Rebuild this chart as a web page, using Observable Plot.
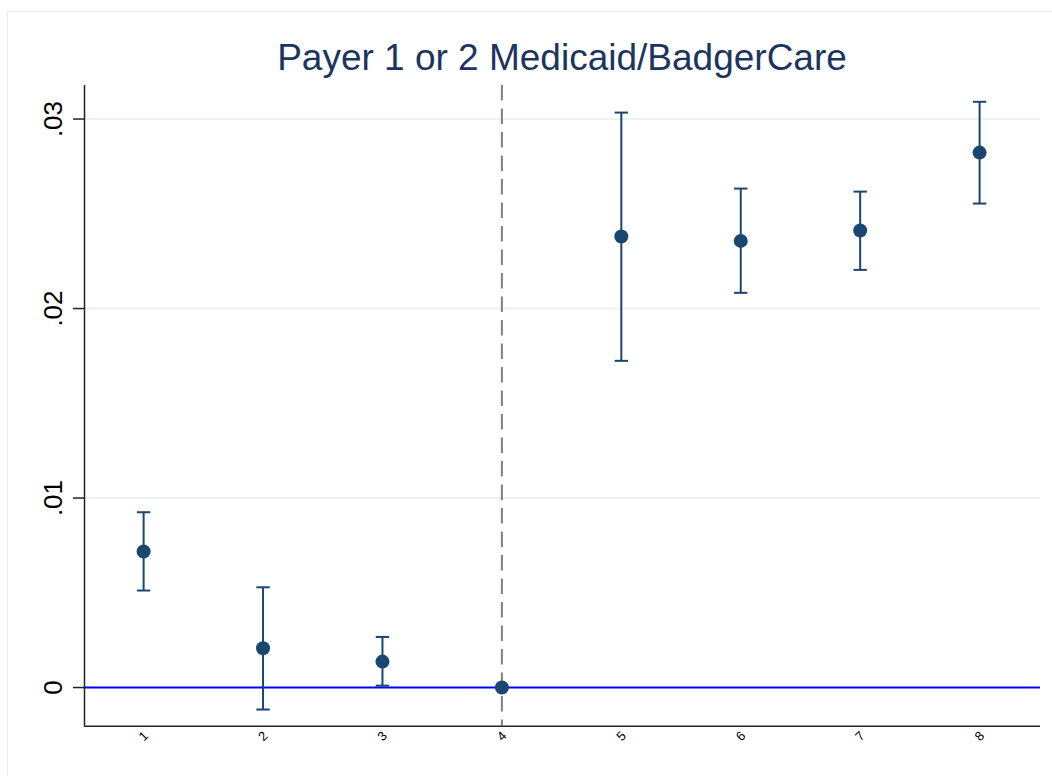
<!DOCTYPE html>
<html>
<head>
<meta charset="utf-8">
<script src="https://cdn.jsdelivr.net/npm/d3@7"></script>
<script src="https://cdn.jsdelivr.net/npm/@observablehq/plot@0.6"></script>
<style>
  html, body { margin: 0; padding: 0; background: #fff; overflow: hidden; }
  #wrap { position: relative; width: 1052px; height: 776px; overflow: hidden;
          font-family: "Liberation Sans", Arial, Helvetica, sans-serif; }
  #border { position: absolute; left: 7px; top: 11px; width: 1100px; height: 900px;
            border: 1.5px solid #e6eef1; box-sizing: border-box; pointer-events: none; }
  #title { position: relative; height: 80px; box-sizing: border-box;
           padding: 39px 12px 0 84px; font-size: 37px; line-height: 37px;
           text-align: center; color: #1c355e; white-space: nowrap; }
  #chart svg { display: block; }
</style>
</head>
<body>
<div id="wrap">
  <div id="border"></div>
  <div id="title">Payer 1 or 2 Medicaid/BadgerCare</div>
  <div id="chart"></div>
</div>
<script>
// Event-study coefficients with 95% confidence intervals (period 4 is the reference)
const periods   = [1, 2, 3, 4, 5, 6, 7, 8];
const estimates = [0.00718, 0.00207, 0.00137, 0, 0.0238, 0.02357, 0.02412, 0.02823];
const ciLow     = [0.00512, -0.00116, 0.0001, null, 0.01724, 0.02083, 0.02204, 0.02554];
const ciHigh    = [0.00925, 0.00529, 0.00267, null, 0.03034, 0.02633, 0.02617, 0.03091];

const yTicks      = [0, 0.01, 0.02, 0.03];
const yTickLabels = ["0", ".01", ".02", ".03"];
const xTickLabels = ["1", "2", "3", "4", "5", "6", "7", "8"];
const eventPeriod = 4;

const xDomain = [0.505, 8.51];
const yDomain = [-0.00204, 0.03177];

const rows = periods.map((p, i) => ({period: p, est: estimates[i], lo: ciLow[i], hi: ciHigh[i]}));
const ciRows = rows.filter(d => d.lo != null);

const navy = "#1a476f";
// horizontal cap drawn at the ends of each confidence interval
const capSymbol = {draw(ctx) { ctx.moveTo(-6.7, 0); ctx.lineTo(6.7, 0); }};

const chart = Plot.plot({
  width: 1052,
  height: 696,
  marginLeft: 84,
  marginRight: 12,
  marginTop: 5,
  marginBottom: 50.3,
  style: {background: "transparent", fontFamily: "'Liberation Sans', Arial, sans-serif"},
  x: {domain: xDomain, axis: null},
  y: {domain: yDomain, axis: null},
  marks: [
    Plot.ruleY(yTicks.filter(t => t !== 0), {stroke: "#eaf2f3", strokeWidth: 2}),
    Plot.ruleX([eventPeriod], {stroke: "#808080", strokeWidth: 2, strokeDasharray: "15.5,8"}),
    Plot.ruleY([0], {stroke: "#0000ff", strokeWidth: 2}),
    // axis lines
    Plot.ruleX([xDomain[0]], {stroke: "#222", strokeWidth: 1.5}),
    Plot.ruleY([yDomain[0]], {stroke: "#222", strokeWidth: 1.5}),
    Plot.axisY({ticks: yTicks, tickSize: 11, tickFormat: () => "", label: null, stroke: "#222", strokeWidth: 1.5}),
    Plot.text(yTicks, {
      y: d => d, text: (d, i) => yTickLabels[i], frameAnchor: "left", dx: -22.3,
      rotate: -90, textAnchor: "middle", lineAnchor: "bottom", fontSize: 26, fill: "#000"
    }),
    Plot.text(periods, {
      x: d => d, text: (d, i) => xTickLabels[i], frameAnchor: "bottom", dy: 10,
      rotate: -45, textAnchor: "middle", lineAnchor: "middle", fontSize: 13, fill: "#000"
    }),
    // confidence intervals
    Plot.ruleX(ciRows, {x: "period", y1: "lo", y2: "hi", stroke: navy, strokeWidth: 2}),
    Plot.dot(ciRows, {x: "period", y: "lo", symbol: capSymbol, fill: "none", stroke: navy, strokeWidth: 2}),
    Plot.dot(ciRows, {x: "period", y: "hi", symbol: capSymbol, fill: "none", stroke: navy, strokeWidth: 2}),
    // point estimates
    Plot.dot(rows, {x: "period", y: "est", r: 7, fill: navy, stroke: "none"})
  ]
});
document.getElementById("chart").appendChild(chart);
</script>
</body>
</html>
